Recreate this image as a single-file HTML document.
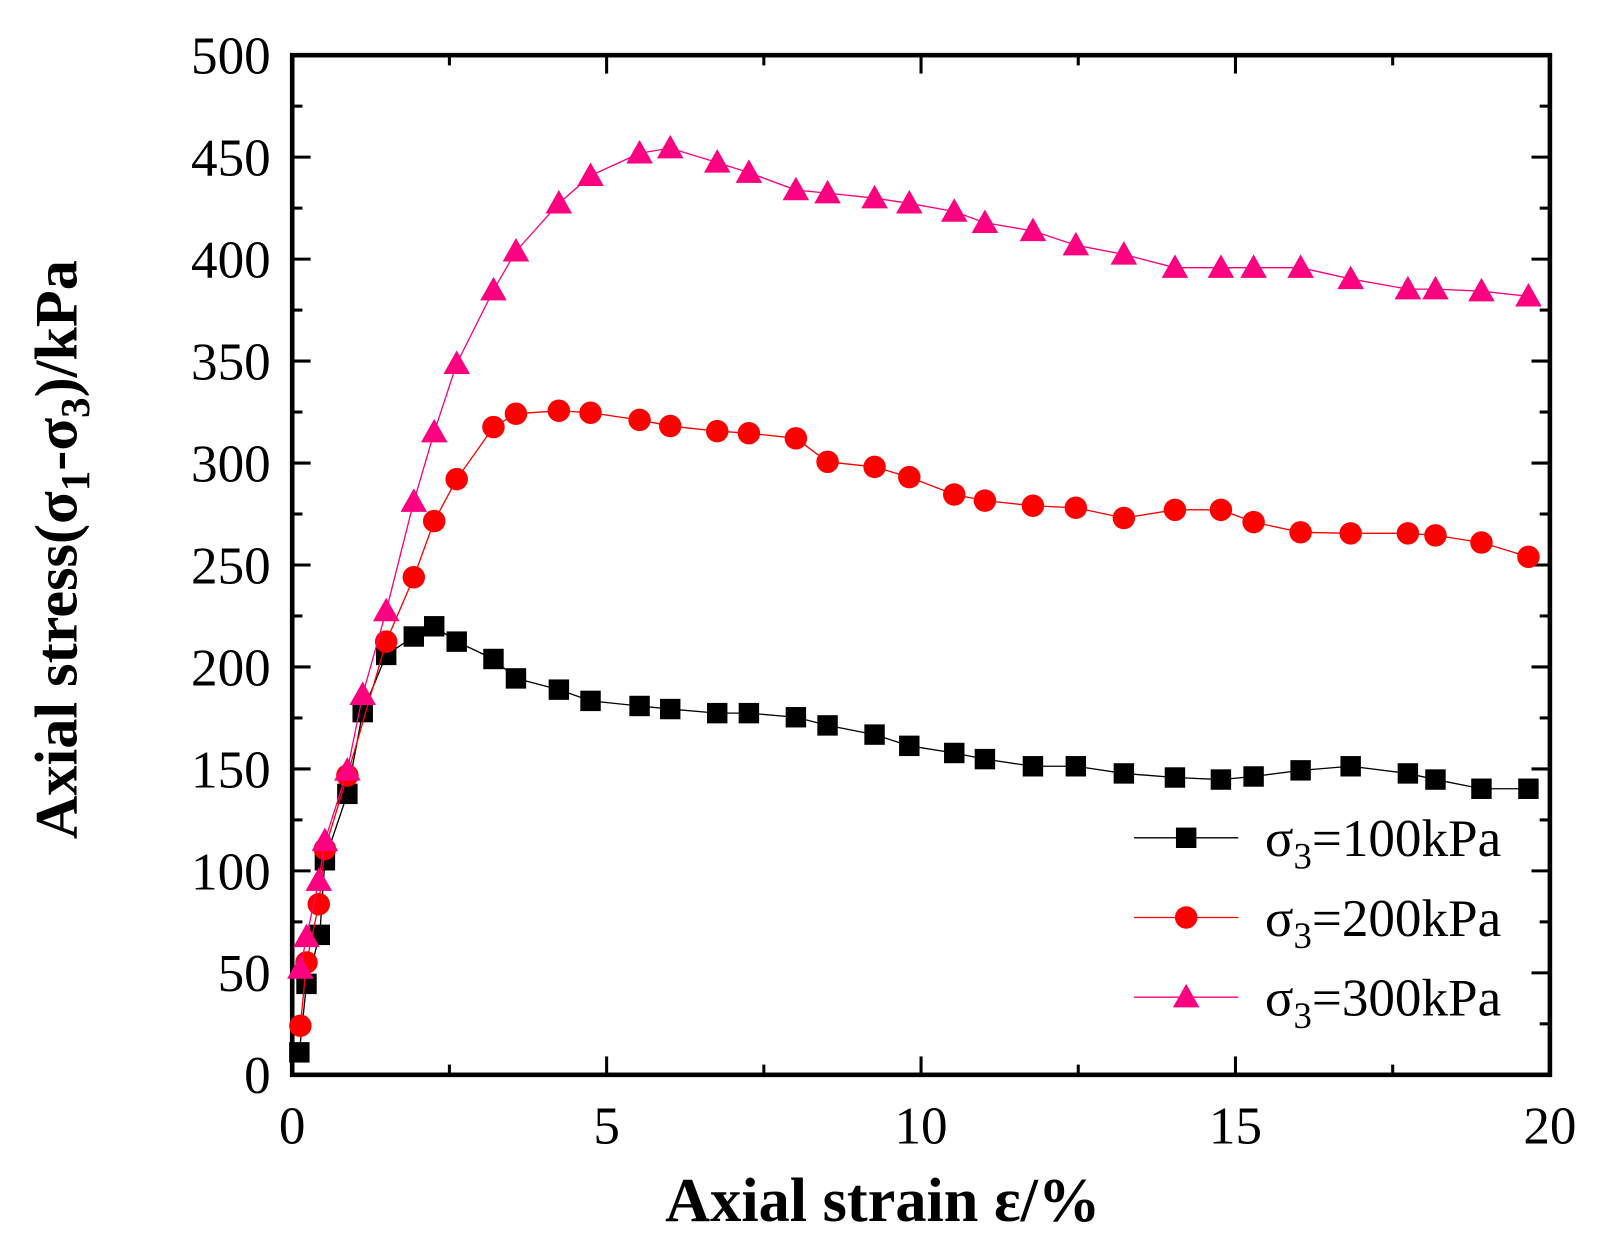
<!DOCTYPE html>
<html><head><meta charset="utf-8"><style>html,body{margin:0;padding:0;background:#fff}svg{display:block}</style></head>
<body>
<svg width="1602" height="1248" viewBox="0 0 1568 1221.5" preserveAspectRatio="none" xmlns="http://www.w3.org/2000/svg" font-family="Liberation Serif, serif">
<script>
(function(){
var ns="http://www.w3.org/2000/svg",svg=document.currentScript.parentNode;
var x0=286,x1=1517,y0=1052,y1=54;
function X(v){return x0+(x1-x0)*v/20}function Y(v){return y0+(y0-y1)*(-v)/500}
function el(t,a,txt){var e=document.createElementNS(ns,t);for(var k in a)e.setAttribute(k,a[k]);if(txt!==undefined)e.textContent=txt;svg.appendChild(e);return e}
for(var i=0;i<=8;i++){var v=i*2.5,x=X(v),L=(i%2==0)?18:10;
 el('line',{x1:x,y1:y0,x2:x,y2:y0-L,stroke:'#000','stroke-width':3});
 el('line',{x1:x,y1:y1,x2:x,y2:y1+L,stroke:'#000','stroke-width':3});
 if(i%2==0)el('text',{x:x,y:1119,'font-size':52,'text-anchor':'middle'},String(v));}
for(var i=0;i<=20;i++){var v=i*25,y=Y(v),L=(i%2==0)?18:10;
 el('line',{x1:x0,y1:y,x2:x0+L,y2:y,stroke:'#000','stroke-width':3});
 el('line',{x1:x1,y1:y,x2:x1-L,y2:y,stroke:'#000','stroke-width':3});
 if(i%2==0)el('text',{x:265,y:y+18,'font-size':52,'text-anchor':'end'},String(v));}
el('rect',{x:x0,y:y1,width:x1-x0,height:y0-y1,fill:'none',stroke:'#000','stroke-width':4.5});
function series(pts,color,mk){
 el('polyline',{points:pts.map(function(p){return p.join(',')}).join(' '),fill:'none',stroke:color,'stroke-width':1.3});
 pts.forEach(function(p){marker(p[0],p[1],color,mk)});}
function marker(x,y,c,mk){
 if(mk=='s')el('rect',{x:x-10,y:y-10,width:20,height:20,fill:c});
 else if(mk=='c')el('circle',{cx:x,cy:y,r:11,fill:c});
 else el('polygon',{points:(x)+','+(y-13)+' '+(x-13)+','+(y+10)+' '+(x+13)+','+(y+10),fill:c});}
var b=[[293,1030],[300,963],[313,915],[318,842],[340,777],[355,697],[378,641],[405,623],[425,613],[447,628],[483,645],[505,664],[547,675],[578,686],[626,691],[656,694],[702,698],[733,698],[779,702],[810,710],[856,719],[890,730],[934,737],[964,743],[1011,750],[1053,750],[1100,757],[1150,761],[1195,763],[1227,760],[1273,754],[1322,750],[1378,757],[1405,763],[1450,772],[1496,772]];
var r=[[294,1004],[300,942],[312,885],[318,831],[340,759],[378,628],[405,565],[425,510],[447,469],[483,418],[505,405],[547,402],[578,404],[626,411],[656,417],[702,422],[733,424],[779,429],[810,452],[856,457],[890,467],[934,484],[964,490],[1011,495],[1053,497],[1100,507],[1150,499],[1195,499],[1227,511],[1273,521],[1322,522],[1378,522],[1405,524],[1450,531],[1496,545]];
var t=[[294,948],[300,917],[312,862],[318,823],[340,754],[355,680],[378,598],[405,491],[425,423],[447,356],[483,284],[505,246],[547,199],[578,172],[626,150],[656,145],[702,159],[733,169],[779,186],[810,189],[856,194],[890,199],[934,207],[964,218],[1011,226],[1053,240],[1100,249],[1150,262],[1195,262],[1227,262],[1273,262],[1322,273],[1378,283],[1405,283],[1450,285],[1496,290]];
series(b,'#000','s');series(r,'#ff0000','c');series(t,'#ff0080','t');
var leg=[['#000','s','100',820],['#ff0000','c','200',898],['#ff0080','t','300',976]];
leg.forEach(function(l){el('line',{x1:1110,y1:l[3],x2:1212,y2:l[3],stroke:l[0],'stroke-width':1.3});marker(1161,l[3],l[0],l[1]);
 var tx=el('text',{x:1238,y:l[3]+18,'font-size':52});
 var a=document.createElementNS(ns,'tspan');a.textContent='σ';tx.appendChild(a);
 var s=document.createElementNS(ns,'tspan');s.setAttribute('font-size','36');s.setAttribute('dy','12');s.textContent='3';tx.appendChild(s);
 var c=document.createElementNS(ns,'tspan');c.setAttribute('dy','-12');c.textContent='='+l[2]+'kPa';tx.appendChild(c);});
el('text',{x:864,y:1195,'font-size':61,'font-weight':'bold','text-anchor':'middle'},'Axial strain ε/%');
var yt=el('text',{x:0,y:0,'font-size':59,'font-weight':'bold','text-anchor':'middle',transform:'translate(75,538) rotate(-90)'});
function sp(t,fs,dy){var s=document.createElementNS(ns,'tspan');if(fs)s.setAttribute('font-size',fs);if(dy)s.setAttribute('dy',dy);s.textContent=t;yt.appendChild(s);}
sp('Axial stress(σ');sp('1',40,12);sp('-σ',null,-12);sp('3',40,12);sp(')/kPa',null,-12);
})();
</script>
</svg>
</body></html>
